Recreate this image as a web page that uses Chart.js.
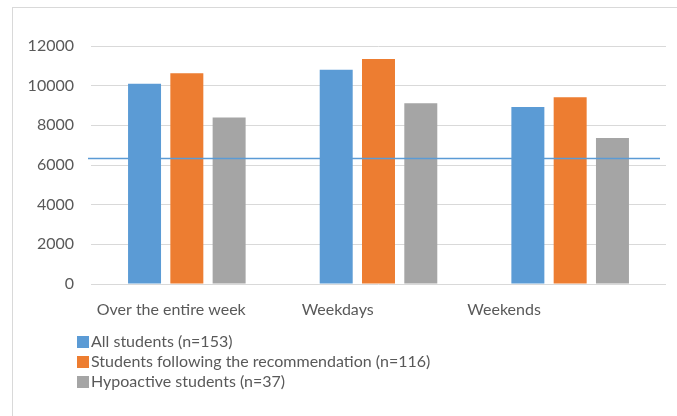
<!DOCTYPE html>
<html>
<head>
<meta charset="utf-8">
<script src="https://cdn.jsdelivr.net/npm/chart.js@4.4.1/dist/chart.umd.min.js"></script>
<style>
  body { margin: 0; background: #fff; }
  #wrap { position: relative; width: 677px; height: 416px; overflow: hidden; background: #fff; }
  #frame { position: absolute; left: 12px; top: 7px; width: 700px; height: 450px;
           border-left: 1px solid #d9d9d9; border-top: 1px solid #d9d9d9; }
  canvas { position: absolute; left: 0; top: 0; }
  #legend { position: absolute; left: 77px; top: 331px; font-family: Lato, sans-serif;
            font-size: 16px; color: #595959; }
  #legend div { height: 20px; line-height: 20px; white-space: nowrap; }
  #legend span.box { display: inline-block; width: 12px; height: 12px; margin-right: 2px;
                     vertical-align: -1px; }
</style>
</head>
<body>
<div id="wrap">
  <div id="frame"></div>
  <canvas id="chart" width="677" height="416"></canvas>
  <div id="legend"></div>
</div>
<script>
// categories and series
const categories = ['Over the entire week', 'Weekdays', 'Weekends'];
const seriesNames = [
    'All students (n=153)',
    'Students following the recommendation (n=116)',
    'Hypoactive students (n=37)'
];
const allStudents = [10100, 10800, 8920];
const recommendation = [10620, 11350, 9410];
const hypoactive = [8400, 9110, 7360];
const threshold = 6350;
const yTicks = [0, 2000, 4000, 6000, 8000, 10000, 12000];

const colors = ['#5B9BD5', '#ED7D31', '#A5A5A5'];
const textColor = '#595959';
const font = { family: 'Lato, sans-serif', size: 16 };

// horizontal reference line
const thresholdLine = {
    id: 'thresholdLine',
    afterDatasetsDraw(chart) {
        const { ctx, chartArea, scales } = chart;
        const y = Math.round(scales.y.getPixelForValue(threshold)) + 0.5;
        ctx.save();
        ctx.strokeStyle = '#5B9BD5';
        ctx.lineWidth = 1.3;
        ctx.beginPath();
        ctx.moveTo(chartArea.left - 3, y);
        ctx.lineTo(chartArea.right - 6, y);
        ctx.stroke();
        ctx.restore();
    }
};

const chart = new Chart(document.getElementById('chart'), {
    type: 'bar',
    data: {
        labels: categories,
        datasets: [allStudents, recommendation, hypoactive].map((d, i) => ({
            label: seriesNames[i],
            data: d,
            backgroundColor: colors[i],
            borderWidth: 0,
            categoryPercentage: 0.662,
            barPercentage: 0.78
        }))
    },
    options: {
        responsive: false,
        devicePixelRatio: 1,
        animation: false,
        layout: { padding: { left: 0, top: 46, right: 11, bottom: 0 } },
        plugins: {
            legend: { display: false },
            tooltip: { enabled: false }
        },
        scales: {
            x: { display: false },
            // category labels sit a little left of the bar groups in the original
            xLabels: {
                type: 'linear',
                position: 'bottom',
                bounds: 'data',
                offset: false,
                min: -0.482,
                max: 2.973,
                grid: { display: false, offset: false },
                border: { display: false },
                afterBuildTicks: s => { s.ticks = categories.map((c, i) => ({ value: i })); },
                afterFit: s => { s.height = 132; },
                ticks: {
                    callback: v => categories[v],
                    color: textColor,
                    font: font,
                    padding: 8,
                    maxRotation: 0,
                    autoSkip: false
                }
            },
            y: {
                min: yTicks[0],
                max: yTicks[yTicks.length - 1],
                afterBuildTicks: s => { s.ticks = yTicks.map(v => ({ value: v })); },
                afterFit: s => { s.width = 91; },
                grid: { color: '#d9d9d9', drawTicks: false },
                border: { display: false },
                ticks: { color: textColor, font: font, padding: 17, callback: v => String(v) }
            }
        }
    },
    plugins: [thresholdLine]
});

// legend, one entry per line
const legend = document.getElementById('legend');
chart.data.datasets.forEach(ds => {
    const row = document.createElement('div');
    const box = document.createElement('span');
    box.className = 'box';
    box.style.background = ds.backgroundColor;
    row.appendChild(box);
    row.appendChild(document.createTextNode(ds.label));
    legend.appendChild(row);
});
</script>
</body>
</html>
